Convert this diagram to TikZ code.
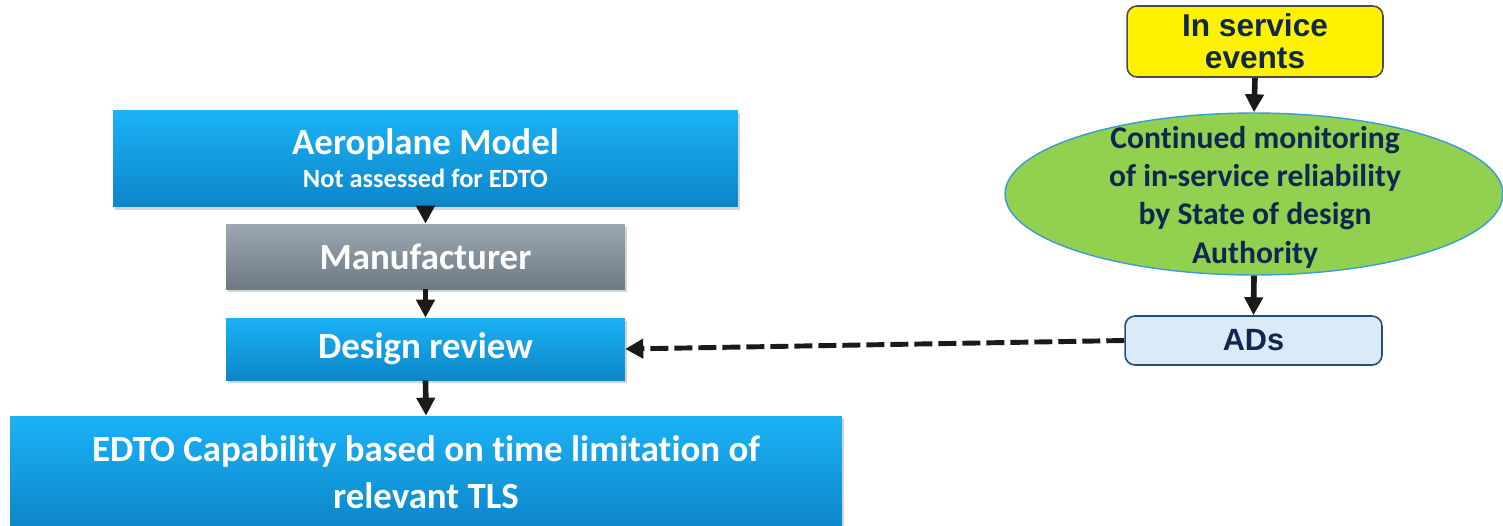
\documentclass[tikz,border=0pt]{standalone}
\usepackage{fontspec}
\setmainfont{Carlito}[Ligatures=NoCommon]
\newfontfamily\arialfont{Liberation Sans}
\usetikzlibrary{arrows.meta,shapes.geometric,shadows}
\definecolor{navy}{HTML}{10284F}
\definecolor{bluetop}{HTML}{1CB2F6}
\definecolor{bluebot}{HTML}{0C86C9}
\definecolor{graytop}{HTML}{9BA8B1}
\definecolor{graybot}{HTML}{6D7A83}
\definecolor{monfill}{HTML}{92D050}
\definecolor{monedge}{HTML}{3A9BD8}
\definecolor{adfill}{HTML}{DBEAF7}
\definecolor{adedge}{HTML}{1F4E79}
\definecolor{arrowc}{HTML}{1A1A1A}
\tikzset{
  bluebox/.style={rectangle, draw=none, top color=bluetop, bottom color=bluebot,
    drop shadow={shadow xshift=0.04cm, shadow yshift=-0.06cm, opacity=0.35},
    text=white, font=\bfseries, align=center, inner sep=0pt},
  graybox/.style={bluebox, top color=graytop, bottom color=graybot},
  flowarrow/.style={draw=arrowc, line width=3.2pt, -{Triangle[length=0.36cm, width=0.36cm]}},
  dasharrow/.style={draw=arrowc, line width=2.8pt, dash pattern=on 0.36cm off 0.12cm,
    -{Triangle[length=0.36cm, width=0.38cm]}},
  yellowbox/.style={rectangle, rounded corners=0.2cm, draw=black!70, line width=0.9pt,
    fill=yellow, text=navy, font=\arialfont\bfseries\fontsize{18}{18}\selectfont,
    align=center, inner sep=0pt},
  monell/.style={ellipse, draw=monedge, line width=0.8pt, fill=monfill, inner sep=0pt},
  montext/.style={text=navy, font=\bfseries\fontsize{18}{21.8}\selectfont, align=center},
  adbox/.style={rectangle, rounded corners=0.2cm, draw=adedge, line width=0.9pt,
    fill=adfill, text=navy, font=\arialfont\bfseries\fontsize{17.5}{20}\selectfont,
    inner sep=0pt}
}
\begin{document}
\begin{tikzpicture}[x=0.02cm, y=-0.02cm]
\useasboundingbox (0,0) rectangle (1503,525);
% left column
\node[bluebox, minimum width=12.5cm, minimum height=1.94cm] (aero) at (425.5,158.5)
  {{\fontsize{21}{26}\selectfont Aeroplane Model}\\[4pt]{\fontsize{15}{16}\selectfont Not assessed for EDTO}};
\node[graybox, minimum width=7.98cm, minimum height=1.3cm, font=\bfseries\fontsize{21}{24}\selectfont] (manu) at (425.5,256.5) {Manufacturer};
\node[bluebox, minimum width=7.98cm, minimum height=1.24cm, font=\bfseries\fontsize{21}{24}\selectfont] (design) at (425.5,349) {Design review};
\node[bluebox, minimum width=16.64cm, minimum height=2.24cm, font=\bfseries\fontsize{21}{27}\selectfont] (edto) at (426,472)
  {EDTO Capability based on time limitation of\\relevant TLS};
% right column
\node[yellowbox, minimum width=5.12cm, minimum height=1.42cm] (insvc) at (1255,41.5) {In service\\events};
\node[monell, minimum width=9.96cm, minimum height=3.24cm] (mon) at (1254,194) {};
\node[montext] (montxt) at (1255,197) {Continued monitoring\\of in-service reliability\\by State of design\\Authority};
\node[adbox, minimum width=5.14cm, minimum height=0.98cm] (ads) at (1253.5,340.5) {ADs};
% connectors
\draw[flowarrow] (aero.south) -- (manu.north);
\draw[flowarrow] (manu.south) -- (design.north);
\draw[flowarrow] (design.south) -- (edto.north);
\draw[flowarrow] (insvc.south) -- (mon.north);
\draw[flowarrow] (mon.south) -- (ads.north);
\draw[dasharrow] (ads.west) -- (design.east);
\end{tikzpicture}
\end{document}
